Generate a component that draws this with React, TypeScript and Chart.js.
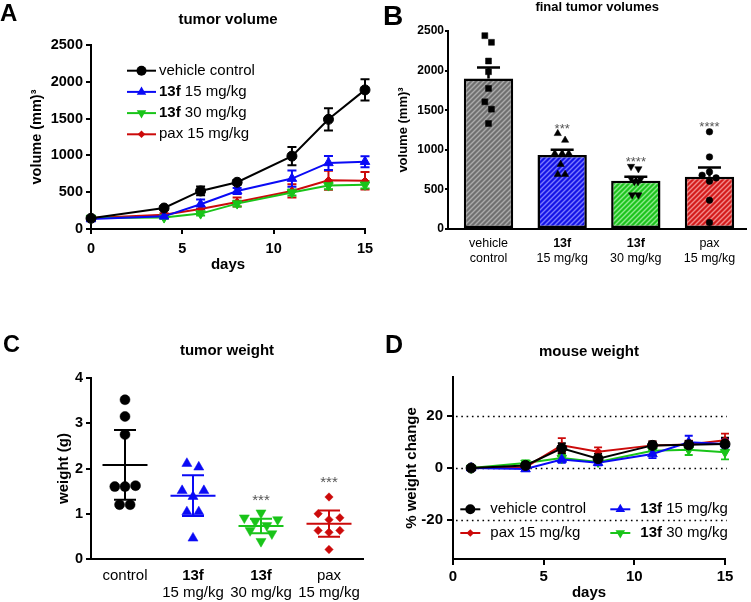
import { useEffect, useRef } from 'react';
import { Chart, registerables } from 'chart.js';
Chart.register(...registerables);

const FONT = "'Liberation Sans', Arial, Helvetica, sans-serif";
const BOLD_WORDS = ['13f'];

// ---------- Panel A: tumor volume ----------
const aDays = [0, 4, 6, 8, 11, 13, 15];
const aVehicle = [145, 285, 517, 635, 990, 1490, 1890];
const aVehicleErr = [15, 25, 60, 30, 125, 150, 145];
const a13f15 = [135, 172, 336, 517, 685, 898, 915];
const a13f15Err = [15, 20, 65, 40, 110, 95, 75];
const a13f30 = [150, 155, 209, 345, 495, 590, 600];
const a13f30Err = [15, 15, 25, 40, 40, 50, 50];
const aPax = [150, 195, 272, 367, 517, 662, 655];
const aPaxErr = [15, 20, 40, 60, 90, 130, 120];
const aTicksX = [0, 5, 10, 15];
const aTicksY = [0, 500, 1000, 1500, 2000, 2500];

// ---------- Panel B: final tumor volumes ----------
const bCategories = [['vehicle', 'control'], ['13f', '15 mg/kg'], ['13f', '30 mg/kg'], ['pax', '15 mg/kg']];
const bMeans = [1900, 935, 610, 660];
const bSem = [140, 65, 50, 115];
const bVehiclePts = [2441, 2357, 2121, 1986, 1775, 1606, 1513, 1332];
const bVehicleSpread = [-0.05, 0.04, 0, 0, 0, -0.05, 0.04, 0];
const b13f15Pts = [1206, 1121, 953, 953, 953, 816, 690, 690];
const b13f15Spread = [-0.06, 0.04, -0.1, 0, 0.09, -0.02, -0.06, 0.04];
const b13f30Pts = [790, 760, 640, 630, 600, 600, 430, 430];
const b13f30Spread = [-0.065, 0.035, -0.065, 0.065, -0.02, 0.03, -0.05, 0.035];
const bPaxPts = [1227, 910, 721, 679, 645, 603, 363, 81];
const bPaxSpread = [0, 0, 0, -0.1, 0.09, 0, 0, 0];
const bStars = ['', '***', '****', '****'];
const bStarLevel = [0, 1310, 890, 1330];
const bTicksY = [0, 500, 1000, 1500, 2000, 2500];

// ---------- Panel C: tumor weight ----------
const cCategories = [['control'], ['13f', '15 mg/kg'], ['13f', '30 mg/kg'], ['pax', '15 mg/kg']];
const cControl = [3.52, 3.15, 2.75, 1.6, 1.6, 1.62, 1.2, 1.2];
const cControlSpread = [0, 0, 0, -0.15, 0, 0.155, -0.08, 0.075];
const c13f15 = [2.11, 2.03, 1.51, 1.51, 1.38, 1.04, 1.04, 0.46];
const c13f15Spread = [-0.09, 0.085, -0.16, 0.16, 0, -0.09, 0.085, 0];
const c13f30 = [1.02, 0.91, 0.87, 0.83, 0.74, 0.63, 0.56, 0.39];
const c13f30Spread = [0, -0.245, 0.245, -0.085, 0.085, -0.16, 0.16, 0];
const cPax = [1.37, 1.0, 0.91, 0.87, 0.63, 0.63, 0.59, 0.21];
const cPaxSpread = [0, -0.16, 0.16, 0, -0.16, 0.16, 0, 0];
const cMeans = [2.08, 1.4, 0.73, 0.78];
const cSd = [0.77, 0.45, 0.16, 0.29];
const cStars = ['', '', '***', '***'];
const cStarLevel = [0, 0, 1.38, 1.79];
const cTicksY = [0, 1, 2, 3, 4];

// ---------- Panel D: mouse weight ----------
const dDays = [1, 4, 6, 8, 11, 13, 15];
const dVehicle = [0, 1.0, 7.6, 3.6, 8.7, 8.9, 9.2];
const dVehicleErr = [0.3, 1.0, 2.0, 1.8, 1.5, 1.5, 2.5];
const d13f15 = [0, -0.4, 3.3, 2.0, 5.4, 9.9, 9.2];
const d13f15Err = [0.3, 0.8, 1.3, 1.0, 1.6, 2.5, 2.0];
const d13f30 = [0, 1.9, 3.8, 2.3, 6.6, 7.0, 6.1];
const d13f30Err = [0.3, 1.0, 1.5, 1.0, 1.5, 2.0, 2.8];
const dPax = [0, 0.3, 8.7, 6.3, 8.7, 9.0, 10.7];
const dPaxErr = [0.3, 1.0, 2.8, 1.6, 1.5, 1.5, 2.5];
const dTicksX = [0, 5, 10, 15];
const dTicksY = [-20, 0, 20];
const dRefLines = [-20, 0, 20];

const LABELS = {
  vehicle: 'vehicle control',
  f15: '13f 15 mg/kg',
  f30: '13f 30 mg/kg',
  pax: 'pax 15 mg/kg',
};

const BLACK = '#000000';
const BLUE = '#0a0af5';
const GREEN = '#19c419';
const RED = '#cc0a0a';

const STY: any = {
  vehicle: { color: BLACK, style: 'circle', r: 5, rot: 0 },
  f15: { color: BLUE, style: 'triangle', r: 5.5, rot: 0 },
  f30: { color: GREEN, style: 'triangle', r: 5.5, rot: 180 },
  pax: { color: RED, style: 'rectRot', r: 3.8, rot: 0 },
};

const bold = (n: number) => `bold ${n}px ${FONT}`;
const normal = (n: number) => `${n}px ${FONT}`;

function txt(ctx: any, s: string, x: number, y: number, font: string, o: any = {}) {
  ctx.save();
  ctx.font = font;
  ctx.fillStyle = o.color || '#000';
  ctx.textAlign = o.align || 'center';
  ctx.textBaseline = o.baseline || 'middle';
  if (o.rotate) {
    ctx.translate(x, y);
    ctx.rotate(o.rotate);
    ctx.fillText(s, 0, 0);
  } else ctx.fillText(s, x, y);
  ctx.restore();
}

function drawRich(ctx: any, line: string, x: number, y: number, size: number, align: string) {
  const words = line.split(' ');
  ctx.save();
  const fonts = words.map((w) => (BOLD_WORDS.includes(w) ? bold(size) : normal(size)));
  const widths = words.map((w, i) => {
    ctx.font = fonts[i];
    return ctx.measureText(w).width;
  });
  ctx.font = normal(size);
  const sp = ctx.measureText(' ').width;
  const total = widths.reduce((a, b) => a + b, 0) + sp * (words.length - 1);
  let cx = align === 'center' ? x - total / 2 : align === 'right' ? x - total : x;
  ctx.textAlign = 'left';
  ctx.textBaseline = 'middle';
  ctx.fillStyle = '#000';
  words.forEach((w, i) => {
    ctx.font = fonts[i];
    ctx.fillText(w, cx, y);
    cx += widths[i] + sp;
  });
  ctx.restore();
}

function drawMarker(ctx: any, s: any, x: number, y: number) {
  const { style, r, color } = s;
  const rot = ((s.rot || 0) * Math.PI) / 180;
  ctx.save();
  ctx.fillStyle = color;
  ctx.beginPath();
  if (style === 'circle') ctx.arc(x, y, r, 0, Math.PI * 2);
  else if (style === 'triangle') {
    for (let k = 0; k < 3; k++) {
      const a = rot + (k * 2 * Math.PI) / 3;
      const px = x + Math.sin(a) * r;
      const py = y - Math.cos(a) * r;
      if (k === 0) ctx.moveTo(px, py);
      else ctx.lineTo(px, py);
    }
    ctx.closePath();
  } else if (style === 'rectRot') {
    ctx.moveTo(x - r, y);
    ctx.lineTo(x, y - r);
    ctx.lineTo(x + r, y);
    ctx.lineTo(x, y + r);
    ctx.closePath();
  }
  ctx.fill();
  ctx.restore();
}

function legendEntry(ctx: any, s: any, label: string, x0: number, y: number, len: number, gap: number, size: number) {
  ctx.save();
  ctx.strokeStyle = s.color;
  ctx.lineWidth = 2;
  ctx.beginPath();
  ctx.moveTo(x0, y);
  ctx.lineTo(x0 + len, y);
  ctx.stroke();
  ctx.restore();
  drawMarker(ctx, s, x0 + len / 2, y);
  drawRich(ctx, label, x0 + len + gap, y, size, 'left');
}

function errorBarsPlugin(cap: number, width: number) {
  return {
    id: 'errbars',
    beforeDatasetsDraw(chart: any) {
      const ctx = chart.ctx;
      const ys = chart.scales.y;
      for (let di = chart.data.datasets.length - 1; di >= 0; di--) {
        const ds = chart.data.datasets[di];
        if (!ds.errors) continue;
        const meta = chart.getDatasetMeta(di);
        ctx.save();
        ctx.strokeStyle = ds.borderColor;
        ctx.lineWidth = width;
        meta.data.forEach((pt: any, i: number) => {
          const v = ds.data[i].y;
          const top = ys.getPixelForValue(v + ds.errors[i]);
          const bot = ys.getPixelForValue(v - ds.errors[i]);
          ctx.beginPath();
          ctx.moveTo(pt.x, top);
          ctx.lineTo(pt.x, bot);
          ctx.moveTo(pt.x - cap, top);
          ctx.lineTo(pt.x + cap, top);
          ctx.moveTo(pt.x - cap, bot);
          ctx.lineTo(pt.x + cap, bot);
          ctx.stroke();
        });
        ctx.restore();
      }
    },
  };
}

function axisCommon(fontSize: number, tickLen: number, pad: number, showTicks: boolean) {
  return {
    grid: { display: showTicks, drawOnChartArea: false, drawTicks: showTicks, color: '#000', lineWidth: 2, tickLength: tickLen },
    border: { display: true, color: '#000', width: 2 },
    ticks: {
      display: showTicks,
      color: '#000',
      font: { family: FONT, size: fontSize, weight: 'bold' },
      padding: pad,
      maxRotation: 0,
      autoSkip: false,
      callback: (v: any) => String(v),
    },
  };
}

function lineDataset(key: string, xs: number[], ys: number[], errs: number[]) {
  const s = STY[key];
  return {
    label: LABELS[key as keyof typeof LABELS],
    data: xs.map((d, i) => ({ x: d, y: ys[i] })),
    errors: errs,
    borderColor: s.color,
    backgroundColor: s.color,
    pointBackgroundColor: s.color,
    pointBorderColor: s.color,
    pointBorderWidth: 1,
    pointStyle: s.style,
    pointRotation: s.rot,
    pointRadius: s.r,
    borderWidth: 2,
    tension: 0,
    clip: false,
  };
}

const baseOpts = {
  animation: false,
  responsive: false,
  devicePixelRatio: 1,
  events: [],
  plugins: { legend: { display: false }, tooltip: { enabled: false }, title: { display: false } },
};

function makeA(canvas: HTMLCanvasElement) {
  const textPlugin = {
    id: 'textA',
    afterDraw(chart: any) {
      const { ctx, chartArea: ca } = chart;
      const cx = (ca.left + ca.right) / 2;
      txt(ctx, 'A', 0, 20.5, bold(24), { align: 'left', baseline: 'alphabetic' });
      txt(ctx, 'tumor volume', cx, 20, bold(15));
      txt(ctx, 'volume (mm)³', 37, (ca.top + ca.bottom) / 2, bold(14.5), { rotate: -Math.PI / 2 });
      txt(ctx, 'days', cx, 265, bold(15));
      const keys = ['vehicle', 'f15', 'f30', 'pax'];
      keys.forEach((k, i) => {
        legendEntry(ctx, STY[k], LABELS[k as keyof typeof LABELS], ca.left + 36, ca.top + 25.7 + i * 21.2, 29, 3, 15);
      });
    },
  };
  return new Chart(canvas, {
    type: 'line',
    data: {
      datasets: [
        lineDataset('vehicle', aDays, aVehicle, aVehicleErr),
        lineDataset('f15', aDays, a13f15, a13f15Err),
        lineDataset('f30', aDays, a13f30, a13f30Err),
        lineDataset('pax', aDays, aPax, aPaxErr),
      ],
    },
    options: {
      ...baseOpts,
      layout: { padding: { left: 0, top: 45, right: 15, bottom: 0 } },
      scales: {
        x: {
          type: 'linear', min: 0, max: 15,
          afterBuildTicks: (s: any) => { s.ticks = aTicksX.map((v) => ({ value: v })); },
          afterFit: (s: any) => { s.height = 71; },
          ...axisCommon(14.5, 5, 6, true),
        },
        y: {
          type: 'linear', min: 0, max: 2500,
          afterBuildTicks: (s: any) => { s.ticks = aTicksY.map((v) => ({ value: v })); },
          afterFit: (s: any) => { s.width = 91; },
          ...axisCommon(14.5, 5, 3, true),
        },
      },
    } as any,
    plugins: [errorBarsPlugin(4.5, 2), textPlugin],
  });
}

function hatch(base: string, stripe: string) {
  const c = document.createElement('canvas');
  const s = 5;
  c.width = s;
  c.height = s;
  const g = c.getContext('2d')!;
  g.fillStyle = base;
  g.fillRect(0, 0, s, s);
  g.strokeStyle = stripe;
  g.lineWidth = 1.4;
  g.beginPath();
  g.moveTo(0, s);
  g.lineTo(s, 0);
  g.moveTo(-1, 1);
  g.lineTo(1, -1);
  g.moveTo(s - 1, s + 1);
  g.lineTo(s + 1, s - 1);
  g.stroke();
  return g.createPattern(c, 'repeat');
}

function scatterGroup(values: number[], spread: number[], idx: number, s: any, r: number) {
  return {
    type: 'scatter',
    order: 1,
    data: values.map((v, i) => ({ x: idx + spread[i], y: v })),
    pointStyle: s.style,
    pointRotation: s.rot || 0,
    pointRadius: r,
    pointBackgroundColor: s.color,
    pointBorderColor: s.color,
    pointBorderWidth: 0.5,
    clip: false,
  };
}

function makeB(canvas: HTMLCanvasElement) {
  const fills = [
    hatch('#707070', '#ababab'),
    hatch('#1414e6', '#7a7aff'),
    hatch('#1ec41e', '#8eea8e'),
    hatch('#d41c1c', '#f28a8a'),
  ];
  const textPlugin = {
    id: 'textB',
    afterDatasetDraw(chart: any, args: any) {
      if (args.index !== 0) return;
      const { ctx } = chart;
      const xs = chart.scales.x;
      const ys = chart.scales.y;
      ctx.save();
      ctx.strokeStyle = '#000';
      ctx.lineWidth = 2.5;
      bMeans.forEach((m, i) => {
        const x = xs.getPixelForValue(i);
        const top = ys.getPixelForValue(m + bSem[i]);
        ctx.beginPath();
        ctx.moveTo(x, ys.getPixelForValue(m));
        ctx.lineTo(x, top);
        ctx.moveTo(x - 11.5, top);
        ctx.lineTo(x + 11.5, top);
        ctx.stroke();
      });
      ctx.restore();
    },
    afterDraw(chart: any) {
      const { ctx, chartArea: ca } = chart;
      const xs = chart.scales.x;
      const ys = chart.scales.y;
      const cx = (ca.left + ca.right) / 2;
      txt(ctx, 'B', 3, 25, bold(28), { align: 'left', baseline: 'alphabetic' });
      txt(ctx, 'final tumor volumes', cx, 7.5, bold(13));
      txt(ctx, 'volume (mm)³', 23, (ca.top + ca.bottom) / 2, bold(13), { rotate: -Math.PI / 2 });
      bCategories.forEach((lines, i) => {
        const x = xs.getPixelForValue(i);
        lines.forEach((ln, k) => drawRich(ctx, ln, x, 243.5 + k * 15.5, 12.5, 'center'));
        if (bStars[i]) {
          txt(ctx, bStars[i], x, ys.getPixelForValue(bStarLevel[i]) + 0.57 * 13, normal(13), { baseline: 'alphabetic', color: '#555' });
        }
      });
    },
  };
  const black = { color: '#000', style: 'rect', rot: 0 };
  return new Chart(canvas, {
    type: 'bar',
    data: {
      datasets: [
        {
          type: 'bar',
          order: 2,
          data: bMeans.map((m, i) => ({ x: i, y: m })),
          backgroundColor: fills,
          borderColor: '#000',
          borderWidth: 2.5,
          borderSkipped: false,
          barPercentage: 0.67,
          categoryPercentage: 1,
        },
        scatterGroup(bVehiclePts, bVehicleSpread, 0, black, 4.2),
        scatterGroup(b13f15Pts, b13f15Spread, 1, { color: '#000', style: 'triangle' }, 4.2),
        scatterGroup(b13f30Pts, b13f30Spread, 2, { color: '#000', style: 'triangle', rot: 180 }, 4.2),
        scatterGroup(bPaxPts, bPaxSpread, 3, { color: '#000', style: 'circle' }, 3.3),
      ],
    },
    options: {
      ...baseOpts,
      layout: { padding: { left: 0, top: 31, right: 0, bottom: 0 } },
      scales: {
        x: {
          type: 'linear', min: -0.55, max: 3.5, offset: false,
          afterBuildTicks: (s: any) => { s.ticks = bCategories.map((_, i) => ({ value: i })); },
          afterFit: (s: any) => { s.height = 71; },
          ...axisCommon(12, 3, 1, false),
        },
        y: {
          type: 'linear', min: 0, max: 2500,
          afterBuildTicks: (s: any) => { s.ticks = bTicksY.map((v) => ({ value: v })); },
          afterFit: (s: any) => { s.width = 68; },
          ...axisCommon(12, 3, 1, true),
        },
      },
    } as any,
    plugins: [textPlugin],
  });
}

function makeC(canvas: HTMLCanvasElement) {
  const groups = ['vehicle', 'f15', 'f30', 'pax'];
  const textPlugin = {
    id: 'textC',
    afterDatasetsDraw(chart: any) {
      const { ctx } = chart;
      const xs = chart.scales.x;
      const ys = chart.scales.y;
      cMeans.forEach((m, i) => {
        const x = xs.getPixelForValue(i);
        const yM = ys.getPixelForValue(m);
        const yT = ys.getPixelForValue(m + cSd[i]);
        const yB = ys.getPixelForValue(m - cSd[i]);
        ctx.save();
        ctx.strokeStyle = STY[groups[i]].color;
        ctx.lineWidth = 2;
        ctx.beginPath();
        ctx.moveTo(x - 22.5, yM);
        ctx.lineTo(x + 22.5, yM);
        ctx.moveTo(x, yT);
        ctx.lineTo(x, yB);
        ctx.moveTo(x - 11, yT);
        ctx.lineTo(x + 11, yT);
        ctx.moveTo(x - 11, yB);
        ctx.lineTo(x + 11, yB);
        ctx.stroke();
        ctx.restore();
      });
    },
    afterDraw(chart: any) {
      const { ctx, chartArea: ca } = chart;
      const xs = chart.scales.x;
      const ys = chart.scales.y;
      const cx = (ca.left + ca.right) / 2;
      txt(ctx, 'C', 3, 52, bold(23.5), { align: 'left', baseline: 'alphabetic' });
      txt(ctx, 'tumor weight', cx, 51, bold(15));
      txt(ctx, 'weight (g)', 64, (ca.top + ca.bottom) / 2, bold(15), { rotate: -Math.PI / 2 });
      cCategories.forEach((lines, i) => {
        const x = xs.getPixelForValue(i);
        lines.forEach((ln, k) => drawRich(ctx, ln, x, 275.5 + k * 17, 15, 'center'));
        if (cStars[i]) {
          txt(ctx, cStars[i], x, ys.getPixelForValue(cStarLevel[i]) + 0.57 * 15, normal(15), { baseline: 'alphabetic', color: '#555' });
        }
      });
    },
  };
  return new Chart(canvas, {
    type: 'scatter',
    data: {
      datasets: [
        scatterGroup(cControl, cControlSpread, 0, STY.vehicle, 5),
        scatterGroup(c13f15, c13f15Spread, 1, STY.f15, 5.8),
        scatterGroup(c13f30, c13f30Spread, 2, STY.f30, 5.8),
        scatterGroup(cPax, cPaxSpread, 3, STY.pax, 4.2),
      ],
    },
    options: {
      ...baseOpts,
      layout: { padding: { left: 0, top: 78, right: 17, bottom: 0 } },
      scales: {
        x: {
          type: 'linear', min: -0.5, max: 3.5, offset: false,
          afterBuildTicks: (s: any) => { s.ticks = cCategories.map((_, i) => ({ value: i })); },
          afterFit: (s: any) => { s.height = 43; },
          ...axisCommon(14, 5, 3, false),
        },
        y: {
          type: 'linear', min: 0, max: 4,
          afterBuildTicks: (s: any) => { s.ticks = cTicksY.map((v) => ({ value: v })); },
          afterFit: (s: any) => { s.width = 91; },
          ...axisCommon(14.5, 5, 3, true),
        },
      },
    } as any,
    plugins: [textPlugin],
  });
}

function makeD(canvas: HTMLCanvasElement) {
  const textPlugin = {
    id: 'textD',
    beforeDatasetsDraw(chart: any) {
      const { ctx, chartArea: ca } = chart;
      const ys = chart.scales.y;
      ctx.save();
      ctx.strokeStyle = '#000';
      ctx.lineWidth = 1.6;
      ctx.setLineDash([1.6, 3.7]);
      dRefLines.forEach((v) => {
        const y = Math.round(ys.getPixelForValue(v)) + 0.5;
        ctx.beginPath();
        ctx.moveTo(ca.left + 3, y);
        ctx.lineTo(ca.right + 2, y);
        ctx.stroke();
      });
      ctx.restore();
    },
    afterDraw(chart: any) {
      const { ctx, chartArea: ca } = chart;
      const cx = (ca.left + ca.right) / 2;
      txt(ctx, 'D', 5, 53, bold(25), { align: 'left', baseline: 'alphabetic' });
      txt(ctx, 'mouse weight', cx, 52, bold(15));
      txt(ctx, '% weight change', 32, (ca.top + ca.bottom) / 2, bold(15), { rotate: -Math.PI / 2 });
      txt(ctx, 'days', cx, 293, bold(15));
      const r1 = ca.bottom - 49.7;
      const r2 = ca.bottom - 26;
      legendEntry(ctx, STY.vehicle, LABELS.vehicle, ca.left + 7.3, r1, 20, 10, 15);
      legendEntry(ctx, STY.f15, LABELS.f15, ca.left + 157.3, r1, 20, 10, 15);
      legendEntry(ctx, STY.pax, LABELS.pax, ca.left + 7.3, r2, 20, 10, 15);
      legendEntry(ctx, STY.f30, LABELS.f30, ca.left + 157.3, r2, 20, 10, 15);
    },
  };
  return new Chart(canvas, {
    type: 'line',
    data: {
      datasets: [
        lineDataset('vehicle', dDays, dVehicle, dVehicleErr),
        lineDataset('f15', dDays, d13f15, d13f15Err),
        lineDataset('pax', dDays, dPax, dPaxErr),
        lineDataset('f30', dDays, d13f30, d13f30Err),
      ],
    },
    options: {
      ...baseOpts,
      layout: { padding: { left: 0, top: 77, right: 26, bottom: 0 } },
      scales: {
        x: {
          type: 'linear', min: 0, max: 15,
          afterBuildTicks: (s: any) => { s.ticks = dTicksX.map((v) => ({ value: v })); },
          afterFit: (s: any) => { s.height = 43; },
          ...axisCommon(15, 6, 3, true),
        },
        y: {
          type: 'linear', min: -35, max: 35,
          afterBuildTicks: (s: any) => { s.ticks = dTicksY.map((v) => ({ value: v })); },
          afterFit: (s: any) => { s.width = 73; },
          ...axisCommon(15, 6, 4, true),
        },
      },
    } as any,
    plugins: [errorBarsPlugin(4, 1.8), textPlugin],
  });
}

export default function App() {
  const refA = useRef<HTMLCanvasElement>(null);
  const refB = useRef<HTMLCanvasElement>(null);
  const refC = useRef<HTMLCanvasElement>(null);
  const refD = useRef<HTMLCanvasElement>(null);
  useEffect(() => {
    const charts = [makeA(refA.current!), makeB(refB.current!), makeC(refC.current!), makeD(refD.current!)];
    return () => charts.forEach((c) => c.destroy());
  }, []);
  const cs = (l: number, t: number, w: number, h: number) => ({ position: 'absolute' as const, left: l, top: t, width: w, height: h });
  return (
    <div style={{ position: 'absolute', left: 0, top: 0, width: 751, height: 602, background: '#fff', overflow: 'hidden' }}>
      <canvas ref={refA} width={380} height={300} style={cs(0, 0, 380, 300)} />
      <canvas ref={refB} width={371} height={300} style={cs(380, 0, 371, 300)} />
      <canvas ref={refC} width={380} height={302} style={cs(0, 300, 380, 302)} />
      <canvas ref={refD} width={371} height={302} style={cs(380, 300, 371, 302)} />
    </div>
  );
}
